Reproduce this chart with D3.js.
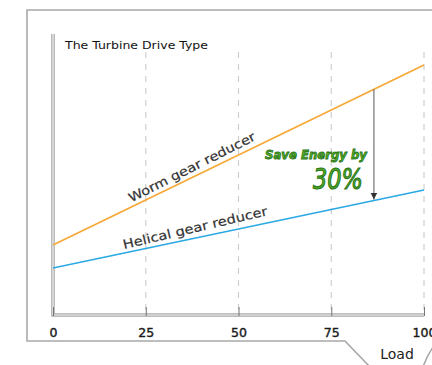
<!DOCTYPE html>
<html>
<head>
<meta charset="utf-8">
<script src="https://cdn.jsdelivr.net/npm/d3@7"></script>
<style>
  html, body { margin: 0; padding: 0; background: #fff; }
  svg { display: block; }
  text { font-family: "DejaVu Sans", Lato, sans-serif; }
</style>
</head>
<body>
<svg id="chart" width="432" height="365"></svg>
<script>
// ---- data ----
const title = "The Turbine Drive Type";
const xTicks = [0, 25, 50, 75, 100];
const xLabel = "Load";
const loads = [0, 100];
const wormValues = [24.9, 89.0];
const helicalValues = [16.7, 44.5];
const seriesNames = ["Worm gear reducer", "Helical gear reducer"];
const arrowLoad = 86.5;
const noteLines = ["Save Energy by", "30%"];

// ---- layout ----
const svg = d3.select("#chart");
const x = d3.scaleLinear().domain([0, 100]).range([53, 424]);
const y = d3.scaleLinear().domain([0, 100]).range([315, 34]);

// outer frame with tab
svg.append("path")
  .attr("d", "M440,10 H27 V341 H345 L370,367")
  .attr("fill", "none").attr("stroke", "#a8a8a8").attr("stroke-width", 1.6);
svg.append("path")
  .attr("d", "M423,367 Q428,352 440,338")
  .attr("fill", "none").attr("stroke", "#a8a8a8").attr("stroke-width", 1.6);

// grid lines
svg.append("g").selectAll("line").data(xTicks.slice(1)).join("line")
  .attr("x1", d => x(d)).attr("x2", d => x(d))
  .attr("y1", 52).attr("y2", 313)
  .attr("stroke", "#cfcfcf").attr("stroke-width", 1.2)
  .attr("stroke-dasharray", "6,6");

// double-line axes (L shape)
const axisPath = `M${x(0)},${y(100)} V${y(0)} H${x(100)}`;
svg.append("path").attr("d", axisPath)
  .attr("fill", "none").attr("stroke", "#a9a9a9").attr("stroke-width", 3.6);
svg.append("path").attr("d", axisPath)
  .attr("fill", "none").attr("stroke", "#f4f4f4").attr("stroke-width", 1.2);

// x axis ticks and labels
const xAxis = d3.axisBottom(x).tickValues(xTicks).tickSize(0).tickPadding(0);
const gx = svg.append("g").attr("transform", `translate(0,${y(0)})`).call(xAxis);
gx.select(".domain").remove();
gx.selectAll(".tick line").attr("y1", -8).attr("y2", 1).attr("stroke", "#777").attr("stroke-width", 1);
gx.selectAll(".tick text")
  .attr("y", 22).attr("dy", 0)
  .attr("font-size", 12.5).attr("fill", "#1a1a1a")
  .attr("stroke", "#1a1a1a").attr("stroke-width", 0.4)
  .style("font-family", "'DejaVu Sans', sans-serif");

// axis label
svg.append("text").attr("x", 397).attr("y", 359).attr("text-anchor", "middle")
  .attr("font-size", 14).attr("fill", "#222").text(xLabel);

// title
svg.append("text").attr("x", 65).attr("y", 49)
  .attr("font-size", 10).attr("fill", "#111")
  .attr("textLength", 143).attr("lengthAdjust", "spacingAndGlyphs").text(title);

// lines
const line = d3.line().x(d => x(d[0])).y(d => y(d[1]));
const wormPts = loads.map((l, i) => [l, wormValues[i]]);
const heliPts = loads.map((l, i) => [l, helicalValues[i]]);
svg.append("path").attr("d", line(wormPts)).attr("fill", "none")
  .attr("stroke", "#f7a733").attr("stroke-width", 1.6);
svg.append("path").attr("d", line(heliPts)).attr("fill", "none")
  .attr("stroke", "#2aa9e6").attr("stroke-width", 1.6);

// rotated series labels
function interp(vals, l) { return vals[0] + (vals[1] - vals[0]) * (l - loads[0]) / (loads[1] - loads[0]); }
function angleOf(vals) {
  return Math.atan2(y(vals[1]) - y(vals[0]), x(loads[1]) - x(loads[0])) * 180 / Math.PI;
}
function seriesLabel(name, vals, startLoad, offset, len, extraAngle) {
  const px = x(startLoad), py = y(interp(vals, startLoad));
  const a = angleOf(vals) + extraAngle;
  svg.append("text")
    .attr("transform", `translate(${px},${py}) rotate(${a})`)
    .attr("y", -offset)
    .attr("font-size", 12.5).attr("fill", "#333")
    .attr("stroke", "#333").attr("stroke-width", 0.2)
    .attr("textLength", len).attr("lengthAdjust", "spacingAndGlyphs")
    .text(name);
}
seriesLabel(seriesNames[0], wormValues, 21.6, 4, 140, -0.8);
seriesLabel(seriesNames[1], helicalValues, 19.4, 4, 148, -1.4);

// arrow
svg.append("defs").append("marker")
  .attr("id", "arrow").attr("viewBox", "0 0 10 10")
  .attr("refX", 10).attr("refY", 5)
  .attr("markerWidth", 7).attr("markerHeight", 7)
  .attr("markerUnits", "userSpaceOnUse")
  .attr("orient", "auto")
  .append("path").attr("d", "M0,0 L10,5 L0,10 Z").attr("fill", "#333");
svg.append("line")
  .attr("x1", x(arrowLoad)).attr("x2", x(arrowLoad))
  .attr("y1", y(interp(wormValues, arrowLoad)))
  .attr("y2", y(interp(helicalValues, arrowLoad)) - 1)
  .attr("stroke", "#666").attr("stroke-width", 1.1)
  .attr("marker-end", "url(#arrow)");

// note text
svg.append("text").attr("x", 367).attr("y", 159).attr("text-anchor", "end")
  .attr("font-size", 12.5).attr("font-style", "italic").attr("font-weight", "bold")
  .attr("fill", "#4fae25").attr("stroke", "#2a7419").attr("stroke-width", 0.8)
  .attr("textLength", 102).attr("lengthAdjust", "spacingAndGlyphs")
  .text(noteLines[0]);
svg.append("text").attr("x", 363).attr("y", 189).attr("text-anchor", "end")
  .attr("font-size", 28).attr("font-style", "italic")
  .attr("fill", "#4fae25").attr("stroke", "#2a7419").attr("stroke-width", 1.1)
  .attr("textLength", 50).attr("lengthAdjust", "spacingAndGlyphs")
  .text(noteLines[1]);
</script>
</body>
</html>
